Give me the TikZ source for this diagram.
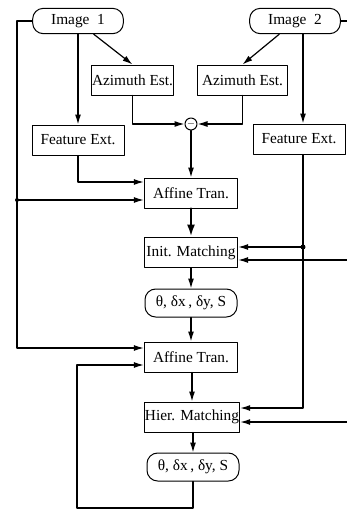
\documentclass[tikz,border=0pt]{standalone}
\usepackage{fontspec}
\setmainfont{Liberation Serif}
\usetikzlibrary{arrows.meta}
\tikzstyle{every node}=[font=\fontsize{11.5}{13}\selectfont]
\tikzstyle{every path}=[line width=0.9pt,line cap=round,line join=round]
\tikzstyle{block}=[draw,rectangle,line width=0.75pt,minimum width=69pt,minimum height=22.5pt,inner xsep=0.5pt,inner ysep=1pt]
\tikzstyle{rblock}=[block,rounded corners=8pt]
\tikzstyle{sig}=[-{Latex[length=7.5pt,width=4.5pt]}]
\begin{document}
\begin{tikzpicture}[x=0.75pt,y=-0.75pt]
\useasboundingbox (0,0) rectangle (347,512);
%Inputs and first stage
	\node[rblock,minimum height=19pt,minimum width=68pt] (img1) at (78,21) {Image~ 1};
	\node[rblock,minimum height=19pt,minimum width=68pt] (img2) at (295,21) {Image~ 2};
	\node[block,minimum width=61pt] (az1) at (132.5,80) {Azimuth Est.};
	\node[block,minimum width=68pt] (az2) at (242.5,80) {Azimuth Est.};
	\node[block] (fe1) at (78,140) {Feature Ext.};
	\node[block] (fe2) at (299,139) {Feature Ext.};
	\node[circle,draw,line width=0.75pt,inner sep=0pt,minimum size=9pt,font=\scriptsize] (sub) at (191,124) {$-$};
%Main column
	\node[block,minimum width=70pt] (aff1) at (191,193) {Affine Tran.};
	\node[block,minimum width=70pt,minimum height=23pt] (init) at (191,252.5) {Init. Matching};
	\node[rblock,minimum height=21pt] (th1) at (191,303) {θ, δx\,, δy, S};
	\node[block,minimum width=70pt] (aff2) at (191,357) {Affine Tran.};
	\node[block,minimum width=71pt] (hier) at (192,417) {Hier. Matching};
	\node[rblock,minimum height=21pt] (th2) at (193,467) {θ, δx\,, δy, S};
%Bus points
	\coordinate (lbus) at (17,348);
	\coordinate (ldot) at (17,200);
	\coordinate (f1) at (78,182);
	\coordinate (rdot) at (303,247);
	\coordinate (r2) at (303,408);
	\coordinate (e0) at (347,21);
	\coordinate (e1) at (347,260);
	\coordinate (e2) at (347,422);
	\coordinate (fb) at (77,508);
	\coordinate (fbt) at (77,365);
%Connections
	\draw[sig] (img1.-40) -- (az1.north);
	\draw[sig] (img2.220) -- (az2.north);
	\draw[sig] (img1.south) -- (fe1.north);
	\draw[sig] (img2.south -| rdot) -- (fe2.north -| rdot);
	\draw (img2.east) -- (e0);
	\draw[sig] (az1.south) |- (sub.west);
	\draw[sig] (az2.south) |- (sub.east);
	\draw[sig] (sub.south) -- (aff1.north);
	\draw[sig] (fe1.south) |- (f1 -| aff1.west);
	\draw[sig] (img1.west) -| (lbus) -- (lbus -| aff2.west);
	\draw[sig] (ldot) -- (ldot -| aff1.west); \fill (ldot) circle (2);
	\draw[-{Latex[length=9pt,width=6pt]},line width=1.8pt] (aff1.south) -- (init.north);
	\draw[sig] (rdot) -- (rdot -| init.east); \fill (rdot) circle (2.5);
	\draw[sig] (e1) -- (e1 -| init.east);
	\draw[sig] (init.south) -- (th1.north);
	\draw[sig] (th1.south) -- (aff2.north);
	\draw[sig] (aff2.south -| hier.north) -- (hier.north);
	\draw[sig] (fe2.south -| rdot) -- (r2) -- (r2 -| hier.east);
	\draw[sig] (e2) -- (e2 -| hier.east);
	\draw[sig] (hier.south -| th2.north) -- (th2.north);
	\draw[sig] (th2.south) |- (fb) -- (fbt) -- (fbt -| aff2.west);
\end{tikzpicture}
\end{document}
